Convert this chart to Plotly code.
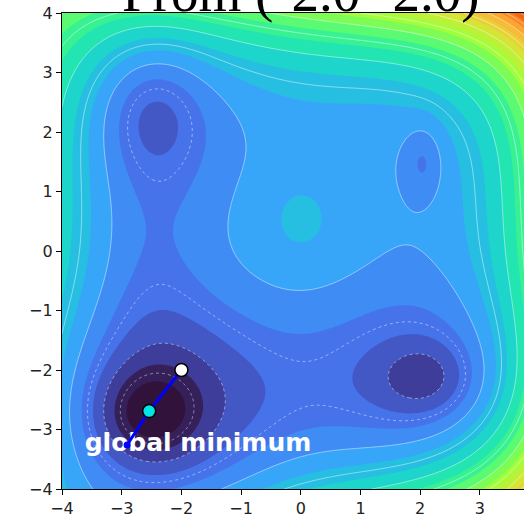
import numpy as np
import plotly.graph_objects as go

# ---- surface description (normalised colour units) ----
grid_lim = [-4.0, 4.0]
plateau = 0.185
tilt_y = 0.01
wall_power = 4
wall_x_height = 0.21
wall_x_tilt = 0.35
wall_y_height = 0.21
wall_y_tilt = 0.22
corner_twist = 0.15
# bumps: centre peak (narrow), centre shoulder (broad), lower-middle shelf
bump_cx = [0.0, 0.0, 0.0]
bump_cy = [0.55, 0.4, -0.2]
bump_h = [0.022, 0.03, 0.035]
bump_sx = [0.37, 1.1, 2.5]
bump_sy = [0.45, 1.4, 1.3]
# wells: global (narrow, broad), bottom-right (narrow, broad), top-left (narrow, broad),
#        top-right (narrow, broad), left saddle
well_cx = [-2.55, -2.4, 2.1, 2.0, -2.5, -2.5, 2.05, 2.0, -2.6]
well_cy = [-2.75, -2.6, -2.15, -2.2, 2.4, 2.3, 1.5, 1.45, 0.0]
well_depth = [0.112, 0.11, 0.074, 0.065, 0.068, 0.045, 0.055, 0.005, 0.04]
well_sx = [0.6, 1.3, 0.55, 1.4, 0.6, 1.0, 0.22, 0.8, 0.7]
well_sy = [0.55, 1.2, 0.45, 1.1, 0.75, 1.2, 0.42, 1.2, 1.4]

# trajectory
path_x = [-2.0, -2.54, -2.91]
path_y = [-2.0, -2.69, -3.26]
start_pt = (-2.0, -2.0)
mid_pt = (-2.54, -2.69)
label_text = "global minimum"
title_text = "From (-2.0 -2.0)"
xticks = [-4, -3, -2, -1, 0, 1, 2, 3]
yticks = [-4, -3, -2, -1, 0, 1, 2, 3, 4]

xs = np.linspace(grid_lim[0], grid_lim[1], 241)
ys = np.linspace(grid_lim[0], grid_lim[1], 241)
X, Y = np.meshgrid(xs, ys)
Z = (plateau + tilt_y * Y
     + wall_x_height * (X / 4) ** wall_power * (1 + wall_x_tilt * X / 4)
     + wall_y_height * (Y / 4) ** wall_power * (1 + wall_y_tilt * Y / 4)
     + corner_twist * (X / 4) * (Y / 4) ** 4)
for cx, cy, h, sx, sy in zip(bump_cx, bump_cy, bump_h, bump_sx, bump_sy):
    Z = Z + h * np.exp(-((X - cx) ** 2 / (2 * sx**2) + (Y - cy) ** 2 / (2 * sy**2)))
for cx, cy, d, sx, sy in zip(well_cx, well_cy, well_depth, well_sx, well_sy):
    Z = Z - d * np.exp(-((X - cx) ** 2 / (2 * sx**2) + (Y - cy) ** 2 / (2 * sy**2)))

lvl = 0.04
first_lvl = 0.02
fig = go.Figure()
# band [L, L+lvl] is painted with the colour at its midpoint
fig.add_trace(go.Contour(x=xs, y=ys, z=Z, colorscale="Turbo", zmin=first_lvl, zmax=1 + first_lvl,
                         autocontour=False, contours=dict(start=first_lvl, end=1 + first_lvl, size=lvl, coloring="fill"),
                         line=dict(width=0), showscale=False, hoverinfo="skip"))
# dashed lines (negative levels) and solid lines (positive levels)
fig.add_trace(go.Contour(x=xs, y=ys, z=Z, autocontour=False,
                         contours=dict(start=0.04, end=0.161, size=0.06, coloring="none"),
                         line=dict(width=1, color="rgba(255,255,255,0.45)", dash="dot"), showscale=False, hoverinfo="skip"))
fig.add_trace(go.Contour(x=xs, y=ys, z=Z, autocontour=False,
                         contours=dict(start=0.22, end=1.2, size=0.06, coloring="none"),
                         line=dict(width=1, color="rgba(255,255,255,0.45)"), showscale=False, hoverinfo="skip"))
fig.add_trace(go.Scatter(x=[-3.62], y=[-3.25], mode="text", text=[label_text], textposition="middle right",
                         textfont=dict(family="DejaVu Sans", size=25, color="white", weight="bold"),
                         showlegend=False, hoverinfo="skip"))
fig.add_trace(go.Scatter(x=path_x, y=path_y, mode="lines", line=dict(color="blue", width=3),
                         showlegend=False, hoverinfo="skip"))
fig.add_trace(go.Scatter(x=[path_x[-1]], y=[path_y[-1]], mode="markers",
                         marker=dict(color="blue", size=7), showlegend=False, hoverinfo="skip"))
fig.add_trace(go.Scatter(x=[mid_pt[0]], y=[mid_pt[1]], mode="markers",
                         marker=dict(color="#00e5e5", size=13, line=dict(color="black", width=1.5)),
                         showlegend=False, hoverinfo="skip"))
fig.add_trace(go.Scatter(x=[start_pt[0]], y=[start_pt[1]], mode="markers",
                         marker=dict(color="white", size=13, line=dict(color="black", width=1.5)),
                         showlegend=False, hoverinfo="skip"))

x_right = -4 + 462 / 59.7
fig.update_layout(width=524, height=519, margin=dict(l=62, r=0, t=13, b=30),
                  plot_bgcolor="white", paper_bgcolor="white", showlegend=False)
fig.update_xaxes(range=[-4, x_right], tickvals=xticks, ticks="outside", ticklen=5, tickwidth=1.2,
                 tickcolor="black", showline=True, linecolor="black", linewidth=1.2, mirror=True,
                 showgrid=False, zeroline=False, tickfont=dict(family="DejaVu Sans", size=16, color="#222"))
fig.update_yaxes(range=[-4, 4], tickvals=yticks, ticks="outside", ticklen=5, tickwidth=1.2,
                 tickcolor="black", showline=True, linecolor="black", linewidth=1.2, mirror=False,
                 showgrid=False, zeroline=False, tickfont=dict(family="DejaVu Sans", size=16, color="#222"))
fig.add_annotation(text=title_text, xref="x", yref="paper", x=0, y=1, yanchor="bottom", yshift=-12,
                   showarrow=False, font=dict(family="Liberation Serif", size=55, color="black"))
fig.write_html("out.html")
